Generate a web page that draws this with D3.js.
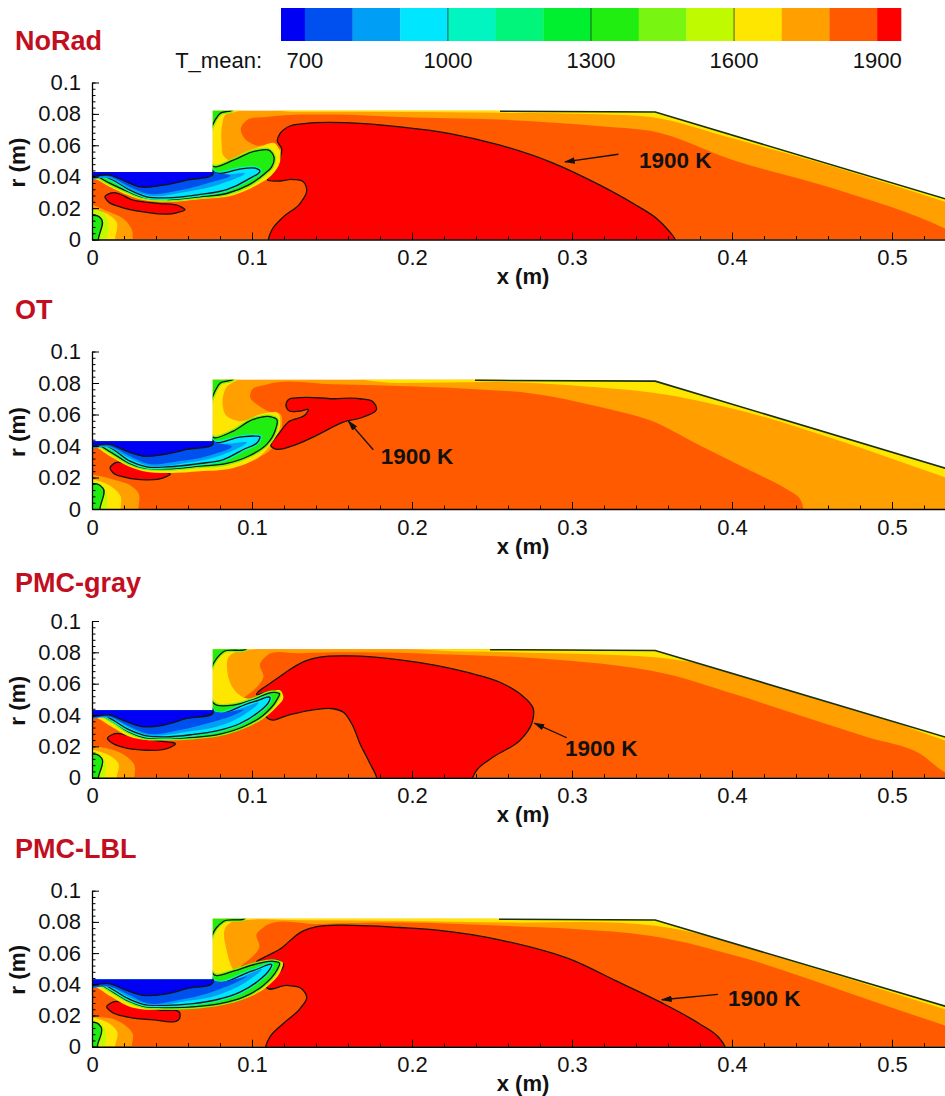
<!DOCTYPE html>
<html>
<head>
<meta charset="utf-8">
<script src="https://cdn.jsdelivr.net/npm/d3@7"></script>
<style>
html, body { margin: 0; padding: 0; background: #fff; overflow: hidden; }
text { font-family: "Liberation Sans", Arial, sans-serif; fill: #111; }
</style>
</head>
<body>
<svg id="chart" width="945" height="1096"></svg>
<script>
// temperature bands of the colour bar
var levels = [650, 700, 800, 900, 1000, 1100, 1200, 1300, 1400, 1500, 1600, 1700, 1800, 1900, 1950];
var levelColors = ['#0000f5', '#0050f0', '#009ff5', '#00e6ff', '#00f5c0', '#00f57a', '#00f030', '#20ee10',
    '#78f510', '#c0fa00', '#ffe600', '#ff9f00', '#ff5a00', '#ff0000'];
var barTicks = [700, 1000, 1300, 1600, 1900];
var barLines = [1000, 1300, 1600];

var xTicks = [0, 0.1, 0.2, 0.3, 0.4, 0.5];
var xMinor = d3.range(0, 0.53, 0.02);
var rTicks = [0, 0.02, 0.04, 0.06, 0.08, 0.1];
var rMinor = d3.range(0, 0.1001, 0.004);

// combustor wall, all cases
var wall = [[0, 0], [0, 0.043], [0.0755, 0.043], [0.0755, 0.082], [0.25, 0.082], [0.352, 0.0812], [0.54, 0.0238], [0.54, 0]];

// NoRad
var noRadOrange = [[0.55, -0.002], [0.533, 0.007], [0.4634, 0.0325], [0.4008, 0.0505], [0.349, 0.0692], [0.3175, 0.0722], [0.255, 0.0764], [0.1925, 0.0781], [0.1508, 0.0796], [0.109, 0.0781], [0.0967, 0.076], [0.093, 0.0707], [0.0946, 0.0654], [0.102, 0.0601], [0.1123, 0.0601], [0.118, 0.0569], [0.1185, 0.0505], [0.114, 0.0431], [0.09, 0.035], [0.07, 0.04]];
var noRadYellow = [[0.56, 0.015], [0.533, 0.024], [0.4634, 0.0463], [0.4008, 0.0643], [0.349, 0.0781], [0.3175, 0.0798], [0.255, 0.0807], [0.13, 0.0813], [0.0883, 0.0809], [0.0831, 0.0792], [0.0815, 0.0739], [0.081, 0.0611], [0.082, 0.0537], [0.0855, 0.0505], [0.0946, 0.0552], [0.105, 0.059], [0.1144, 0.0612], [0.1175, 0.0558], [0.1175, 0.0495], [0.1123, 0.041], [0.1029, 0.0346], [0.0883, 0.0282], [0.0675, 0.0257], [0.0467, 0.024], [0.0321, 0.0251], [0.0227, 0.0282], [0.0113, 0.0335], [0.0008, 0.0389]];
var noRadLobe = [[0.0877, 0.0825], [0.08, 0.0803], [0.0769, 0.076], [0.0769, 0.0463], [0.0883, 0.0505], [0.1029, 0.0565], [0.1112, 0.0565], [0.1137, 0.0527], [0.1123, 0.0463], [0.1081, 0.042], [0.0977, 0.0346], [0.0842, 0.0293], [0.0675, 0.0272], [0.0467, 0.0255], [0.0321, 0.0268], [0.0227, 0.0304], [0.0113, 0.0357], [0.0008, 0.041]];
var noRadJet = [[0.0755, 0.0435], [0.0946, 0.0452], [0.1029, 0.0452], [0.1046, 0.0442], [0.0967, 0.0378], [0.0842, 0.0318], [0.0675, 0.0287], [0.0467, 0.0265], [0.0342, 0.0272], [0.0238, 0.0314], [0.0133, 0.0378], [0.0008, 0.0425]];
var noRadLight = [[0.0755, 0.0435], [0.0956, 0.042], [0.08, 0.0352], [0.0592, 0.0304], [0.0342, 0.0282], [0.0227, 0.0325], [0.0113, 0.0389]];
var noRadBlue = [[0.0755, 0.0435], [0.0863, 0.041], [0.0717, 0.0357], [0.055, 0.0314], [0.0342, 0.0293], [0.0238, 0.0335], [0.0113, 0.04]];
var noRadCold = [[0.0758, 0.0425], [0.0592, 0.0378], [0.0446, 0.0346], [0.03, 0.0335], [0.0217, 0.0367], [0.0113, 0.041]];
var noRadRed = [[0.1102, 0], [0.1123, 0.0059], [0.1196, 0.0144], [0.13, 0.0229], [0.1342, 0.0314], [0.1321, 0.0367], [0.1258, 0.0382], [0.1154, 0.0372], [0.1098, 0.0378], [0.1144, 0.0442], [0.1175, 0.0516], [0.1185, 0.058], [0.1158, 0.0628], [0.1175, 0.0675], [0.1227, 0.0718], [0.134, 0.0739], [0.1613, 0.0743], [0.1925, 0.0718], [0.2238, 0.0675], [0.255, 0.0601], [0.2863, 0.0495], [0.3175, 0.0346], [0.3383, 0.0229], [0.3529, 0.0134], [0.3602, 0.0059], [0.3644, 0]];
var noRadCore = [[0.0081, 0.0272], [0.0123, 0.0297], [0.0258, 0.0251], [0.0425, 0.0229], [0.055, 0.0212], [0.0581, 0.0191], [0.0529, 0.017], [0.0321, 0.0176], [0.0175, 0.0208], [0.0102, 0.024]];
var noRadInlet = [
    [[0.0255, 0], [0.025, 0.006], [0.0205, 0.0125], [0.012, 0.017], [0.004, 0.0205], [0, 0.0225]],
    [[0.0144, 0], [0.0154, 0.011], [0.009, 0.0165], [0.002, 0.0187], [0, 0.019]],
    [[0.0092, 0], [0.0102, 0.0113], [0.006, 0.0176], [0, 0.0191]],
    [[0.004, 0], [0.0056, 0.0134], [0.0035, 0.015], [0, 0.0155]]
];

// OT
var otOrange = [[0.58, -0.01], [0.4446, -0.006], [0.4446, 0], [0.4425, 0.0064], [0.434, 0.0127], [0.4113, 0.0244], [0.38, 0.0403], [0.3487, 0.0563], [0.3175, 0.0648], [0.2758, 0.0732], [0.2342, 0.0764], [0.1925, 0.0781], [0.1508, 0.0792], [0.1092, 0.079], [0.0998, 0.0754], [0.0988, 0.0711], [0.1039, 0.0658], [0.1113, 0.0616], [0.1175, 0.0605], [0.1185, 0.0509], [0.1123, 0.0382], [0.09, 0.03], [0.07, 0.04]];
var otYellow = [[0.56, 0.011], [0.533, 0.0202], [0.4634, 0.0446], [0.4008, 0.0637], [0.3519, 0.0737], [0.3175, 0.0771], [0.2758, 0.08], [0.1925, 0.08], [0.0883, 0.0804], [0.0852, 0.0785], [0.0817, 0.0696], [0.0842, 0.059], [0.0915, 0.0558], [0.1071, 0.0607], [0.1165, 0.0607], [0.1175, 0.0527], [0.1123, 0.042], [0.105, 0.0335], [0.0883, 0.0261], [0.0675, 0.024], [0.0467, 0.0229], [0.0321, 0.024], [0.0227, 0.0272], [0.0113, 0.0335], [0.0008, 0.0399]];
var otLobe = [[0.0883, 0.0825], [0.08, 0.0798], [0.0769, 0.0749], [0.0769, 0.0452], [0.0883, 0.0495], [0.1008, 0.0569], [0.1113, 0.0586], [0.1154, 0.0569], [0.1144, 0.0495], [0.1092, 0.041], [0.0977, 0.0335], [0.0842, 0.0289], [0.0675, 0.0272], [0.0467, 0.0255], [0.0321, 0.0261], [0.0227, 0.0293], [0.0123, 0.0357], [0.0008, 0.042]];
var otJet = [[0.0755, 0.0432], [0.0925, 0.0456], [0.1019, 0.0463], [0.105, 0.0459], [0.104, 0.0431], [0.0946, 0.0378], [0.0821, 0.0314], [0.0675, 0.0289], [0.0467, 0.0268], [0.0342, 0.0268], [0.0238, 0.0304], [0.0133, 0.0378], [0.002, 0.0431]];
var otLight = [[0.0755, 0.0435], [0.0967, 0.042], [0.0821, 0.0346], [0.0592, 0.0293], [0.0342, 0.0276], [0.0227, 0.0325], [0.0113, 0.0389]];
var otBlue = [[0.0755, 0.0435], [0.0873, 0.0399], [0.0717, 0.0335], [0.055, 0.0304], [0.0342, 0.0289], [0.0238, 0.0335], [0.0113, 0.0399]];
var otCold = [[0.0758, 0.042], [0.0592, 0.0378], [0.0446, 0.0346], [0.0321, 0.0335], [0.0217, 0.0367], [0.0113, 0.041]];
var otRed = [[0.1213, 0.0669], [0.1227, 0.0694], [0.13, 0.0707], [0.1508, 0.07], [0.1675, 0.07], [0.1758, 0.0679], [0.1779, 0.0637], [0.1696, 0.0584], [0.1571, 0.0552], [0.1404, 0.0467], [0.1258, 0.0403], [0.1144, 0.0382], [0.1123, 0.0393], [0.1175, 0.0488], [0.1227, 0.0552], [0.134, 0.0605], [0.1352, 0.063], [0.13, 0.0622], [0.1227, 0.0626]];
var otCore = [[0.0113, 0.0261], [0.0144, 0.0293], [0.0258, 0.0272], [0.0404, 0.0246], [0.0488, 0.0219], [0.0446, 0.0197], [0.03, 0.0187], [0.0196, 0.0204], [0.0133, 0.0229]];
var otInlet = [
    [[0.029, 0], [0.029, 0.0102], [0.0248, 0.0144], [0.0133, 0.0187], [0.003, 0.0212], [0, 0.0219]],
    [[0.0179, 0], [0.0179, 0.0081], [0.0133, 0.0134], [0.005, 0.0176], [0, 0.0187]],
    [[0.0092, 0], [0.0092, 0.0102], [0.005, 0.0161], [0, 0.0176]],
    [[0.005, 0], [0.0067, 0.0134], [0.003, 0.0159], [0, 0.0161]]
];

// PMC-gray
var grayOrange = [[0.55, -0.002], [0.533, 0.0036], [0.5175, 0.0153], [0.4842, 0.0259], [0.4425, 0.0397], [0.4008, 0.0535], [0.3592, 0.0662], [0.3383, 0.0701], [0.3175, 0.0728], [0.2758, 0.0764], [0.2133, 0.079], [0.1717, 0.08], [0.13, 0.0794], [0.1092, 0.0779], [0.105, 0.0726], [0.1071, 0.0641], [0.1029, 0.0577], [0.0967, 0.0524], [0.09, 0.047], [0.07, 0.047]];
var grayYellow = [[0.56, 0.0145], [0.533, 0.0238], [0.4634, 0.0493], [0.3519, 0.0769], [0.3175, 0.0786], [0.2342, 0.0805], [0.0967, 0.0811], [0.0885, 0.0795], [0.0863, 0.0781], [0.0848, 0.0665], [0.0883, 0.0569], [0.0946, 0.0512], [0.1029, 0.0505], [0.1185, 0.0548], [0.1196, 0.0516], [0.1144, 0.0442], [0.1071, 0.0378], [0.0883, 0.0293], [0.0717, 0.0265], [0.0467, 0.0244], [0.0342, 0.024], [0.0227, 0.0265], [0.0123, 0.0325], [0.0008, 0.0389]];
var grayLobe = [[0.0967, 0.0825], [0.0821, 0.0804], [0.0779, 0.0762], [0.0779, 0.0463], [0.0883, 0.0463], [0.1008, 0.0499], [0.1144, 0.0544], [0.1171, 0.0537], [0.1154, 0.0495], [0.1071, 0.0399], [0.0946, 0.0325], [0.08, 0.0278], [0.0633, 0.0257], [0.0446, 0.0251], [0.0321, 0.0257], [0.0227, 0.0293], [0.0133, 0.0357], [0.0008, 0.042]];
var grayJet = [[0.0755, 0.0425], [0.1008, 0.0484], [0.1113, 0.0505], [0.1108, 0.049], [0.1029, 0.041], [0.0925, 0.0346], [0.0779, 0.0299], [0.0633, 0.0276], [0.0446, 0.0261], [0.0321, 0.0272], [0.0227, 0.0308], [0.0133, 0.0367], [0.002, 0.0425]];
var grayLight = [[0.0755, 0.043], [0.104, 0.0473], [0.0946, 0.0399], [0.0779, 0.0325], [0.0592, 0.0293], [0.0342, 0.0274], [0.0227, 0.0321], [0.0113, 0.0382]];
var grayBlue = [[0.0755, 0.043], [0.0946, 0.0431], [0.0883, 0.0399], [0.0717, 0.0346], [0.055, 0.0304], [0.0342, 0.0282], [0.0238, 0.0325], [0.0113, 0.0389]];
var grayCold = [[0.0758, 0.042], [0.0592, 0.0378], [0.0446, 0.0335], [0.0321, 0.0325], [0.0217, 0.0357], [0.0113, 0.0399]];
var grayRed = [[0.1779, 0], [0.1738, 0.0089], [0.1675, 0.0217], [0.1623, 0.0344], [0.1571, 0.0418], [0.1508, 0.044], [0.1383, 0.0433], [0.1238, 0.0403], [0.1102, 0.0376], [0.1086, 0.0391], [0.1144, 0.0461], [0.1185, 0.0524], [0.1165, 0.0546], [0.1029, 0.0531], [0.1154, 0.0631], [0.134, 0.0747], [0.1425, 0.0769], [0.1613, 0.0777], [0.1925, 0.0752], [0.2342, 0.0673], [0.255, 0.0609], [0.2675, 0.0535], [0.2758, 0.044], [0.2748, 0.0344], [0.2675, 0.0238], [0.2508, 0.0132], [0.2404, 0.0047], [0.2379, 0]];
var grayCore = [[0.0096, 0.0251], [0.0133, 0.0278], [0.0258, 0.0261], [0.0404, 0.0236], [0.0519, 0.0212], [0.0488, 0.0193], [0.0321, 0.0176], [0.0196, 0.0193], [0.0123, 0.0223]];
var grayInlet = [
    [[0.0265, 0], [0.0265, 0.0081], [0.0217, 0.0134], [0.0133, 0.0176], [0.002, 0.0202], [0, 0.0208]],
    [[0.0154, 0], [0.0165, 0.0091], [0.0123, 0.0134], [0.005, 0.0166], [0, 0.018]],
    [[0.0081, 0], [0.0087, 0.0091], [0.005, 0.0151], [0, 0.0166]],
    [[0.004, 0], [0.0061, 0.0123], [0.003, 0.0149], [0, 0.0151]]
];

// PMC-LBL
var lblOrange = [[0.55, 0.008], [0.5325, 0.0138], [0.4745, 0.034], [0.4092, 0.0563], [0.3486, 0.0711], [0.3011, 0.0754], [0.2573, 0.0775], [0.1925, 0.0796], [0.1425, 0.0786], [0.1071, 0.0764], [0.1029, 0.0722], [0.1046, 0.0637], [0.0988, 0.0563], [0.0925, 0.051], [0.09, 0.047], [0.07, 0.047]];
var lblYellow = [[0.56, 0.0155], [0.533, 0.024], [0.4634, 0.0465], [0.3519, 0.0775], [0.2573, 0.0796], [0.13, 0.081], [0.0956, 0.081], [0.0865, 0.0795], [0.0842, 0.0775], [0.0842, 0.0616], [0.0904, 0.0478], [0.1008, 0.052], [0.1133, 0.0541], [0.1192, 0.0541], [0.1185, 0.0499], [0.1092, 0.0382], [0.0925, 0.0297], [0.0758, 0.0259], [0.0592, 0.0244], [0.0425, 0.0238], [0.0321, 0.0238], [0.0227, 0.0259], [0.0123, 0.0318], [0.0008, 0.0386]];
var lblLobe = [[0.0956, 0.0825], [0.0821, 0.0803], [0.0779, 0.0764], [0.0779, 0.0456], [0.0883, 0.0484], [0.1029, 0.0531], [0.1144, 0.0546], [0.1171, 0.0537], [0.1154, 0.0488], [0.1071, 0.0393], [0.0946, 0.0318], [0.08, 0.0276], [0.0633, 0.0255], [0.0446, 0.0251], [0.0321, 0.0259], [0.0227, 0.0293], [0.0133, 0.035], [0.0008, 0.0418]];
var lblJet = [[0.0755, 0.0425], [0.1008, 0.0488], [0.1123, 0.052], [0.1113, 0.0499], [0.1029, 0.0414], [0.0925, 0.035], [0.0779, 0.0301], [0.0633, 0.0276], [0.0446, 0.0265], [0.0321, 0.0272], [0.0227, 0.0308], [0.0133, 0.0365], [0.002, 0.0425]];
var lblLight = [[0.0755, 0.043], [0.1061, 0.0493], [0.0946, 0.0403], [0.0779, 0.0329], [0.0592, 0.0293], [0.0342, 0.0272], [0.0227, 0.0318], [0.0113, 0.0382]];
var lblBlue = [[0.0755, 0.043], [0.0967, 0.0446], [0.0883, 0.0403], [0.0717, 0.034], [0.055, 0.0301], [0.0342, 0.028], [0.0238, 0.0329], [0.0113, 0.0386]];
var lblCold = [[0.0758, 0.0418], [0.0592, 0.0372], [0.0446, 0.0335], [0.0321, 0.0329], [0.0217, 0.0361], [0.0113, 0.0403]];
var lblRed = [[0.1085, 0], [0.1113, 0.0064], [0.1196, 0.0149], [0.13, 0.0244], [0.1342, 0.0318], [0.131, 0.0372], [0.1217, 0.0393], [0.1092, 0.0378], [0.1081, 0.0393], [0.1154, 0.0456], [0.1196, 0.0531], [0.1165, 0.0552], [0.1029, 0.0541], [0.1175, 0.0626], [0.1321, 0.0743], [0.1404, 0.0769], [0.1625, 0.0778], [0.1925, 0.0764], [0.2142, 0.0749], [0.2575, 0.0679], [0.3011, 0.0552], [0.3269, 0.0425], [0.355, 0.0287], [0.3794, 0.0149], [0.3913, 0.0064], [0.3956, 0]];
var lblCore = [[0.0092, 0.0255], [0.0133, 0.0287], [0.0258, 0.0265], [0.0425, 0.0234], [0.055, 0.0212], [0.055, 0.0191], [0.0363, 0.0174], [0.0217, 0.0191], [0.0123, 0.0223]];
var lblInlet = [
    [[0.0248, 0], [0.0254, 0.0085], [0.0206, 0.0138], [0.0123, 0.018], [0.002, 0.0195], [0, 0.0202]],
    [[0.0144, 0], [0.0158, 0.0096], [0.0108, 0.0149], [0.005, 0.0174], [0, 0.0187]],
    [[0.0081, 0], [0.0087, 0.0096], [0.005, 0.0153], [0, 0.017]],
    [[0.0033, 0], [0.0056, 0.0127], [0.003, 0.0153], [0, 0.0157]]
];

var panelNames = ['NoRad', 'OT', 'PMC-gray', 'PMC-LBL'];
var panelOrange = [noRadOrange, otOrange, grayOrange, lblOrange];
var panelYellow = [noRadYellow, otYellow, grayYellow, lblYellow];
var panelLobe = [noRadLobe, otLobe, grayLobe, lblLobe];
var panelJet = [noRadJet, otJet, grayJet, lblJet];
var panelLight = [noRadLight, otLight, grayLight, lblLight];
var panelBlue = [noRadBlue, otBlue, grayBlue, lblBlue];
var panelCold = [noRadCold, otCold, grayCold, lblCold];
var panelRed = [noRadRed, otRed, grayRed, lblRed];
var panelCore = [noRadCore, otCore, grayCore, lblCore];
var panelInlet = [noRadInlet, otInlet, grayInlet, lblInlet];
var wallStart = [0.255, 0.2394, 0.2488, 0.2544];
var leaderFrom = [[0.329, 0.0543], [0.1758, 0.0376], [0.2967, 0.0255], [0.3912, 0.0335]];
var leaderTo = [[0.2956, 0.0495], [0.1602, 0.0558], [0.2765, 0.0348], [0.3562, 0.0301]];
var labelAt = [[0.3419, 0.0505], [0.1805, 0.0335], [0.2956, 0.0187], [0.3975, 0.0315]];

// pixel layout
var plotLeft = 92, plotRight = 946.4;
var panelBottom = [239.5, 509, 777.7, 1046.7];
var panelTop = [82.5, 351.5, 621, 890.7];
var titleY = [50, 319, 592, 858];

var svg = d3.select("#chart");

var defs = svg.append("defs");
defs.append("marker")
    .attr("id", "head")
    .attr("viewBox", "0 0 10 6")
    .attr("refX", 9)
    .attr("refY", 3)
    .attr("markerUnits", "userSpaceOnUse")
    .attr("markerWidth", 11)
    .attr("markerHeight", 6.5)
    .attr("orient", "auto")
    .append("path")
    .attr("d", "M0,0L10,3L0,6Z")
    .attr("fill", "#111");

// Colour bar
var barX = d3.scaleLinear().domain([650, 1950]).range([281, 901]);
var bar = svg.append("g");
bar.selectAll("rect")
    .data(levelColors)
    .enter().append("rect")
    .attr("x", function (d, i) {return barX(levels[i]);})
    .attr("y", 8)
    .attr("width", function (d, i) {return barX(levels[i + 1]) - barX(levels[i]) + 0.3;})
    .attr("height", 33)
    .attr("fill", function (d) {return d;});
bar.selectAll("line")
    .data(barLines)
    .enter().append("line")
    .attr("x1", function (d) {return barX(d);})
    .attr("x2", function (d) {return barX(d);})
    .attr("y1", 8)
    .attr("y2", 41)
    .attr("stroke", "#1c3c1c")
    .attr("stroke-width", 0.8);
bar.selectAll("text")
    .data(barTicks)
    .enter().append("text")
    .attr("x", function (d) {return barX(d);})
    .attr("y", 68)
    .attr("text-anchor", "middle")
    .style("font-size", "22px")
    .text(function (d) {return d;});
svg.append("text")
    .attr("x", 262).attr("y", 68)
    .attr("text-anchor", "end")
    .style("font-size", "22px")
    .text("T_mean:");

// Paths: every band is closed outside the combustor, the clip cuts it along the wall
var smooth = d3.line().curve(d3.curveCatmullRomClosed.alpha(1));
var topClosure = [[-0.01, 0.06], [0.07, 0.095], [0.36, 0.095], [0.58, 0.04]];

panelNames.forEach(function (name, p)
{
    var x = d3.scaleLinear().domain([0, 0.534]).range([plotLeft, plotRight]);
    var y = d3.scaleLinear().domain([0, 0.1]).range([panelBottom[p], panelTop[p]]);
    var toPx = function (pts) {return pts.map(function (d) {return [x(d[0]), y(d[1])];});};
    var closedPath = function (pts) {return smooth(toPx(pts));};

    defs.append("clipPath")
        .attr("id", "clip" + p)
        .append("path")
        .attr("d", d3.line()(toPx(wall)) + "Z");

    var g = svg.append("g");
    var field = g.append("g").attr("clip-path", "url(#clip" + p + ")");

    var fill = function (pts, level, contour, halo)
    {
        var i = d3.bisectRight(levels, level) - 1;
        if (halo)
            field.append("path").attr("d", closedPath(pts)).attr("fill", "none")
                .attr("stroke", halo).attr("stroke-width", 4);
        field.append("path")
            .attr("d", closedPath(pts))
            .attr("fill", levelColors[i])
            .attr("stroke", contour ? "#10160c" : "none")
            .attr("stroke-width", contour ? 1.3 : 0);
    };
    var jetClosure = function (pts)
    {
        var last = pts[pts.length - 1];
        return pts.concat([[-0.01, last[1]], [-0.01, 0.05], [0.072, 0.05]]);
    };
    var redClosure = function (pts)
    {
        if (pts[0][1] !== 0) return pts;
        return pts.concat([[pts[pts.length - 1][0], -0.01], [pts[0][0], -0.01]]);
    };

    field.append("path").attr("d", d3.line()(toPx(wall)) + "Z").attr("fill", levelColors[12]);

    // 1700 K band along wall and recirculation zone
    fill(panelOrange[p].concat(topClosure.slice(1)), 1750);

    // inlet near the axis
    var inletLevels = [1750, 1650, 1550, 1350];
    panelInlet[p].forEach(function (pts, i)
    {
        var last = pts[pts.length - 1];
        fill([[-0.01, -0.01], [pts[0][0], -0.01]].concat(pts, [[-0.01, last[1]]]), inletLevels[i], i == 3);
    });

    fill(redClosure(panelRed[p]), 1920, true);
    fill(panelCore[p], 1920, true);

    var yellow = panelYellow[p];
    fill(yellow.concat([[-0.01, yellow[yellow.length - 1][1]]], topClosure), 1650);
    var lobe = panelLobe[p];
    fill(lobe.concat([[-0.01, lobe[lobe.length - 1][1]], [-0.01, 0.06], [0.07, 0.095], [lobe[0][0], 0.095]]), 1350, true, levelColors[8]);
    fill(jetClosure(panelJet[p]), 950, true, levelColors[4]);
    fill(jetClosure(panelLight[p]), 850);
    fill(jetClosure(panelBlue[p]), 750);
    fill(jetClosure(panelCold[p]), 680, true);

    // contour hugging the outer wall
    g.append("path")
        .datum([[wallStart[p], 0.0817], [0.352, 0.0812], [0.534, 0.0257]])
        .attr("d", function (d) {return d3.line()(toPx(d));})
        .attr("fill", "none")
        .attr("stroke", "#17300f")
        .attr("stroke-width", 1.6);

    // axes
    g.append("g")
        .attr("transform", "translate(0," + panelBottom[p] + ")")
        .call(d3.axisBottom(x).tickValues(xMinor).tickSize(-3.5).tickFormat(""))
        .call(function (s) {s.select(".domain").remove();});
    g.append("g")
        .attr("transform", "translate(" + plotLeft + ",0)")
        .call(d3.axisLeft(y).tickValues(rMinor).tickSize(-3.5).tickFormat(""))
        .call(function (s) {s.select(".domain").remove();});
    g.append("g")
        .attr("transform", "translate(0," + panelBottom[p] + ")")
        .call(d3.axisBottom(x).tickValues(xTicks).tickSize(-7).tickSizeOuter(0).tickPadding(10).tickFormat(d3.format("~g")))
        .call(function (s) {s.select(".domain").attr("stroke-width", 1.5);})
        .selectAll("text").style("font-size", "22px");
    g.append("g")
        .attr("transform", "translate(" + plotLeft + ",0)")
        .call(d3.axisLeft(y).tickValues(rTicks).tickSize(-7).tickSizeOuter(0).tickPadding(11).tickFormat(d3.format("~g")))
        .call(function (s) {s.select(".domain").attr("stroke-width", 1.3);})
        .selectAll("text").style("font-size", "22px");
    g.selectAll(".tick text").style("font-family", "'Liberation Sans', Arial, sans-serif");

    g.append("text")
        .attr("x", 523)
        .attr("y", panelBottom[p] + 44.5)
        .attr("text-anchor", "middle")
        .style("font-size", "22px")
        .style("font-weight", "bold")
        .text("x (m)");
    g.append("text")
        .attr("transform", "translate(25," + (panelBottom[p] - 77) + ") rotate(-90)")
        .attr("text-anchor", "middle")
        .style("font-size", "22.5px")
        .style("font-weight", "bold")
        .text("r (m)");

    g.append("text")
        .attr("x", 15)
        .attr("y", titleY[p])
        .style("font-size", "27px")
        .style("font-weight", "bold")
        .style("fill", "#c20f1f")
        .text(name);

    // 1900 K annotation
    g.append("line")
        .attr("x1", x(leaderFrom[p][0]))
        .attr("y1", y(leaderFrom[p][1]))
        .attr("x2", x(leaderTo[p][0]))
        .attr("y2", y(leaderTo[p][1]))
        .attr("stroke", "#111")
        .attr("stroke-width", 1.3)
        .attr("marker-end", "url(#head)");
    g.append("text")
        .attr("x", x(labelAt[p][0]))
        .attr("y", y(labelAt[p][1]))
        .attr("dy", "0.36em")
        .style("font-size", "22.5px")
        .style("font-weight", "bold")
        .text("1900 K");
});
</script>
</body>
</html>
